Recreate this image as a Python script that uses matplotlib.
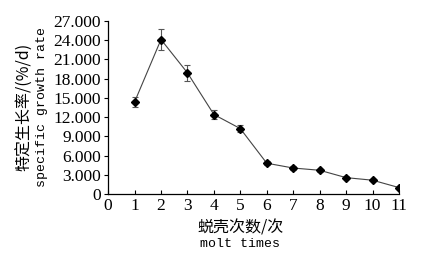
import matplotlib
matplotlib.use("Agg")
import matplotlib.pyplot as plt
from matplotlib.ticker import FuncFormatter

# molt number vs specific growth rate
molts = [1, 2, 3, 4, 5, 6, 7, 8, 9, 10, 11]
rate = [14.35, 24.1, 18.9, 12.4, 10.2, 4.8, 4.05, 3.7, 2.55, 2.15, 1.0]
err = [0.85, 1.6, 1.2, 0.75, 0.55, 0.35, 0.25, 0.25, 0.2, 0.2, 0.15]

y_ticks = [0, 3, 6, 9, 12, 15, 18, 21, 24, 27]
x_ticks = list(range(0, 12))

num_font = "Liberation Serif"
cjk_font = ["Noto Sans CJK SC", "DejaVu Sans"]
mono_font = "Liberation Mono"

fig = plt.figure(figsize=(4.24, 2.65), dpi=100)
ax = fig.add_axes([0.255, 0.268, 0.686, 0.653])

ax.errorbar(molts, rate, yerr=err, color="#444444", lw=0.8,
            marker="D", markersize=4.5, markerfacecolor="black",
            markeredgecolor="black", ecolor="#555555", elinewidth=0.8,
            capsize=2.5, capthick=0.8)

ax.set_xlim(0, 11)
ax.set_ylim(0, 27)
ax.set_xticks(x_ticks)
ax.set_yticks(y_ticks)
ax.yaxis.set_major_formatter(FuncFormatter(lambda v, p: "0" if v == 0 else "%.3f" % v))

for s in ["top", "right"]:
    ax.spines[s].set_visible(False)
for s in ["left", "bottom"]:
    ax.spines[s].set_linewidth(0.9)

ax.tick_params(axis="x", direction="in", length=3, width=0.8, pad=3)
ax.tick_params(axis="y", direction="out", length=3, width=0.8, pad=2)
for lab in ax.get_xticklabels() + ax.get_yticklabels():
    lab.set_fontfamily(num_font)
    lab.set_fontsize(12.5)

# y label, two lines
fig.text(0.058, 0.595, "特定生长率/(%/d)", rotation=90, ha="center", va="center",
         family=cjk_font, fontsize=11.5)
fig.text(0.099, 0.595, "specific growth rate", rotation=90, ha="center", va="center",
         family=mono_font, fontsize=9.5)

# x label, two lines
fig.text(0.567, 0.138, "蜕壳次数/次", ha="center", va="center",
         family=cjk_font, fontsize=11.5)
fig.text(0.567, 0.080, "molt times", ha="center", va="center",
         family=mono_font, fontsize=9.5)

fig.savefig("out.png", dpi=100)
